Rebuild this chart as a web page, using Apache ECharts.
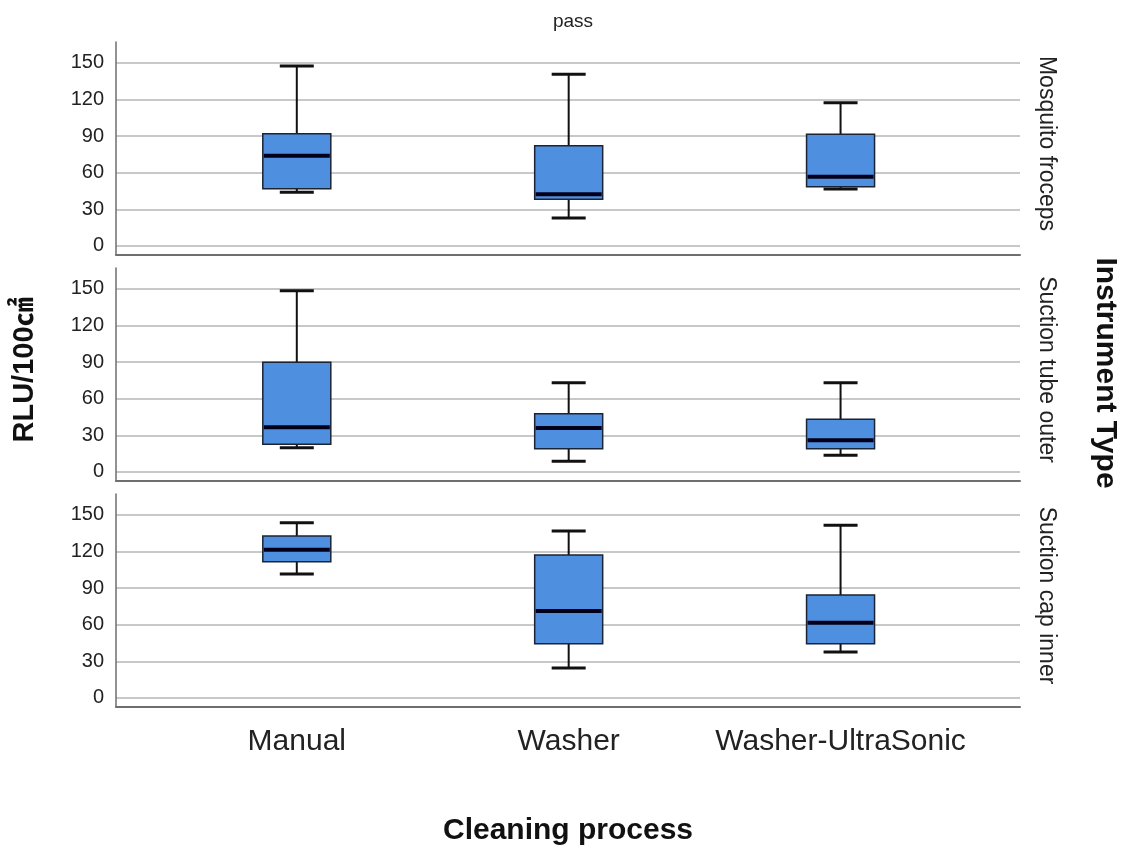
<!DOCTYPE html>
<html>
<head>
<meta charset="utf-8">
<script src="https://cdn.jsdelivr.net/npm/echarts@6/dist/echarts.min.js"></script>
<style>
  html, body { margin: 0; padding: 0; background: #fff; }
  #chart { width: 1129px; height: 849px; }
</style>
</head>
<body>
<div id="chart"></div>
<script>
var categories = ['Manual', 'Washer', 'Washer-UltraSonic']
var instruments = ['Mosquito froceps', 'Suction tube outer', 'Suction cap inner']
var yTicks = [0, 30, 60, 90, 120, 150]

// [min, Q1, median, Q3, max] per cleaning process
var mosquitoForceps = [
    [44, 47, 74, 92, 147.5],
    [23, 38.3, 42.5, 82.2, 140.7],
    [46.7, 48.6, 56.8, 91.5, 117.5]
]
var suctionTubeOuter = [
    [19.9, 22.7, 36.6, 89.9, 148.6],
    [8.7, 19.1, 36, 47.8, 73.2],
    [13.7, 19.1, 26, 43.2, 73.2]
]
var suctionCapInner = [
    [101.6, 111.7, 121.6, 132.8, 143.7],
    [24.6, 44.5, 71.3, 117.2, 136.9],
    [37.7, 44.5, 61.7, 84.4, 141.5]
]
var panels = [mosquitoForceps, suctionTubeOuter, suctionCapInner]

var font = 'Liberation Sans, Arial, sans-serif'
var tops = [42, 268, 494]
var panelH = 213

function renderBox(params, api) {
    var x = api.value(0)
    var pMin = api.coord([x, api.value(1)])
    var pQ1 = api.coord([x, api.value(2)])
    var pMed = api.coord([x, api.value(3)])
    var pQ3 = api.coord([x, api.value(4)])
    var pMax = api.coord([x, api.value(5)])
    var cx = pMin[0]
    var half = 34, cap = 17
    var whisker = { stroke: '#111', lineWidth: 2 }
    var capStyle = { stroke: '#111', lineWidth: 3 }
    return {
        type: 'group',
        children: [
            { type: 'line', shape: { x1: cx, y1: pMax[1], x2: cx, y2: pQ3[1] }, style: whisker },
            { type: 'line', shape: { x1: cx, y1: pQ1[1], x2: cx, y2: pMin[1] }, style: whisker },
            { type: 'line', shape: { x1: cx - cap, y1: pMax[1], x2: cx + cap, y2: pMax[1] }, style: capStyle },
            { type: 'line', shape: { x1: cx - cap, y1: pMin[1], x2: cx + cap, y2: pMin[1] }, style: capStyle },
            { type: 'rect', shape: { x: cx - half, y: pQ3[1], width: half * 2, height: pQ1[1] - pQ3[1] },
              style: { fill: '#4f8fe0', stroke: '#1b2434', lineWidth: 1.5 } },
            { type: 'line', shape: { x1: cx - half + 1, y1: pMed[1], x2: cx + half - 1, y2: pMed[1] },
              style: { stroke: '#00001a', lineWidth: 4 } }
        ]
    }
}

var grids = [], xAxes = [], yAxes = [], series = [], graphics = []
panels.forEach(function (stats, i) {
    grids.push({ left: 116, right: 109, top: tops[i], height: panelH })
    xAxes.push({
        type: 'value', gridIndex: i, min: -0.665, max: 2.66,
        axisLine: { show: true, onZero: false, lineStyle: { color: '#6e6e6e', width: 2 } },
        axisTick: { show: false },
        splitLine: { show: false },
        axisLabel: {
            show: i === 2,
            customValues: [0, 1, 2],
            formatter: function (v) { return categories[v] },
            color: '#222', fontFamily: font, fontSize: 30, margin: 20
        }
    })
    yAxes.push({
        type: 'value', gridIndex: i, min: -7.4, max: 167.2,
        axisLine: { show: true, onZero: false, lineStyle: { color: '#6e6e6e', width: 1.5 } },
        axisTick: { show: false, customValues: yTicks },
        splitLine: { show: true, lineStyle: { color: '#c8c8c8', width: 2 } },
        axisLabel: { customValues: yTicks, color: '#222', fontFamily: font, fontSize: 20, margin: 12 }
    })
    series.push({
        type: 'custom', xAxisIndex: i, yAxisIndex: i,
        renderItem: renderBox,
        encode: { x: 0, y: [1, 2, 3, 4, 5] },
        data: stats.map(function (s, k) { return [k].concat(s) })
    })
    graphics.push({
        type: 'text', x: 1046, y: tops[i] + panelH / 2 - 5, rotation: -Math.PI / 2,
        style: { text: instruments[i], font: '23px ' + font, fill: '#222', align: 'center', verticalAlign: 'middle' }
    })
})

graphics.push({
    type: 'text', x: 25, y: 370, rotation: Math.PI / 2,
    style: { text: 'RLU/100㎠', font: 'bold 29px ' + font + ', Noto Sans CJK SC', fill: '#111', align: 'center', verticalAlign: 'middle' }
})
graphics.push({
    type: 'text', x: 1105, y: 373, rotation: -Math.PI / 2,
    style: { text: 'Instrument Type', font: 'bold 30px ' + font, fill: '#111', align: 'center', verticalAlign: 'middle' }
})
graphics.push({
    type: 'text', x: 568, y: 831,
    style: { text: 'Cleaning process', font: 'bold 30px ' + font, fill: '#111', align: 'center', verticalAlign: 'middle' }
})

var chart = echarts.init(document.getElementById('chart'))
chart.setOption({
    backgroundColor: '#fff',
    animation: false,
    title: {
        text: 'pass', left: 568, top: 7, textAlign: 'center',
        textStyle: { fontFamily: font, fontSize: 19, fontWeight: 'normal', color: '#222' }
    },
    grid: grids,
    xAxis: xAxes,
    yAxis: yAxes,
    series: series,
    graphic: graphics
})
</script>
</body>
</html>
